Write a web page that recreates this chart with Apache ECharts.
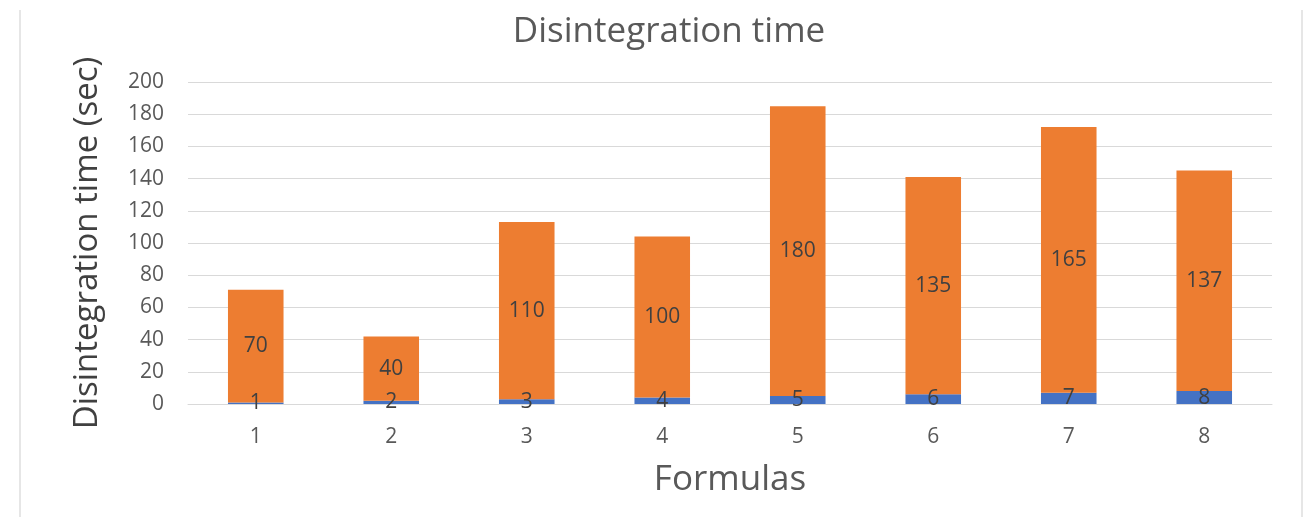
<!DOCTYPE html>
<html>
<head>
<meta charset="utf-8">
<script src="https://cdn.jsdelivr.net/npm/echarts@6/dist/echarts.min.js"></script>
<style>
  html, body { margin: 0; padding: 0; background: #fff; }
  #main { width: 1313px; height: 517px; }
</style>
</head>
<body>
<div id="main"></div>
<script>
// data
var formulas = ['1', '2', '3', '4', '5', '6', '7', '8'];
var lowerValues = [1, 2, 3, 4, 5, 6, 7, 8];
var upperValues = [70, 40, 110, 100, 180, 135, 165, 137];
var yTicks = { min: 0, max: 200, interval: 20 };

var font = '"Open Sans", "Noto Sans", sans-serif';
var chart = echarts.init(document.getElementById('main'));

var labelStyle = {
  show: true,
  position: 'inside',
  color: '#404040',
  fontSize: 21,
  fontFamily: font
};

chart.setOption({
  backgroundColor: '#fff',
  animation: false,
  title: {
    text: 'Disintegration time',
    left: 664,
    textAlign: 'center',
    top: 10,
    textStyle: { color: '#595959', fontSize: 35, fontWeight: 'normal', fontFamily: font }
  },
  grid: { left: 188, right: 41, top: 82, bottom: 113 },
  xAxis: {
    type: 'category',
    data: formulas,
    name: 'Formulas',
    nameLocation: 'middle',
    nameGap: 59,
    nameTextStyle: { color: '#595959', fontSize: 35, fontFamily: font },
    axisLine: { show: true, lineStyle: { color: '#d9d9d9' } },
    axisTick: { show: false },
    axisLabel: { color: '#595959', fontSize: 21, fontFamily: font, margin: 23 }
  },
  yAxis: {
    type: 'value',
    min: yTicks.min,
    max: yTicks.max,
    interval: yTicks.interval,
    name: 'Disintegration time (sec)',
    nameLocation: 'middle',
    nameGap: 84,
    nameTextStyle: { color: '#404040', fontSize: 33, fontFamily: font },
    axisLine: { show: false },
    axisTick: { show: false },
    splitLine: { lineStyle: { color: '#d9d9d9' } },
    axisLabel: { color: '#595959', fontSize: 21, fontFamily: font, margin: 24 }
  },
  series: [
    {
      name: 'lower',
      type: 'bar',
      stack: 'total',
      barWidth: '41%',
      data: lowerValues,
      itemStyle: { color: '#4472C4' },
      label: labelStyle
    },
    {
      name: 'upper',
      type: 'bar',
      stack: 'total',
      barWidth: '41%',
      data: upperValues,
      itemStyle: { color: '#ED7D31' },
      label: labelStyle
    }
  ],
  graphic: [
    { type: 'line', shape: { x1: 20, y1: 10, x2: 20, y2: 517 }, style: { stroke: '#e6e6e6', lineWidth: 2 } },
    { type: 'line', shape: { x1: 1302, y1: 10, x2: 1302, y2: 517 }, style: { stroke: '#e6e6e6', lineWidth: 2 } }
  ]
});
</script>
</body>
</html>
